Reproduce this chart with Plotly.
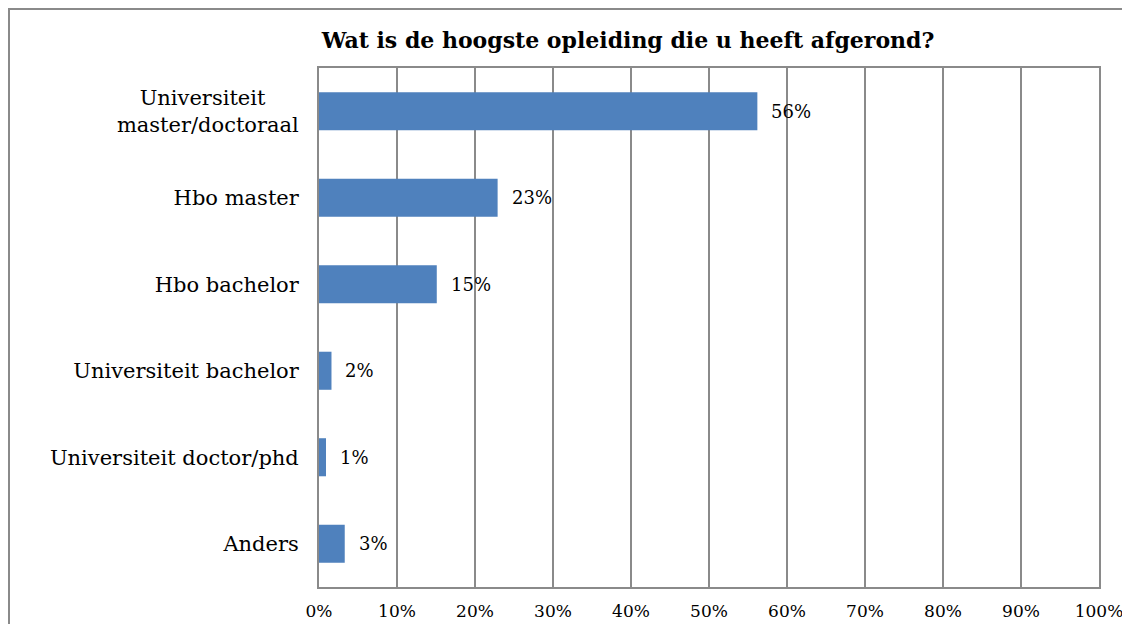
import plotly.graph_objects as go

categories = ["Universiteit\u00a0\u00a0\u00a0\u00a0\u00a0<br>master/doctoraal", "Hbo master", "Hbo bachelor",
              "Universiteit bachelor", "Universiteit doctor/phd", "Anders"]
values = [0.562, 0.229, 0.151, 0.016, 0.009, 0.033]
labels = ["56%", "23%", "15%", "2%", "1%", "3%"]
x_ticks = [0, 0.1, 0.2, 0.3, 0.4, 0.5, 0.6, 0.7, 0.8, 0.9, 1.0]
title = "Wat is de hoogste opleiding die u heeft afgerond?"

FONT = "DejaVu Serif"
GRID = "#8a8a8a"

# page body has an 8px margin; figure is sized/offset to compensate
W, H = 1114, 616
L, R, T, B = 311, 23, 60, 37
PW, PH = W - L - R, H - T - B

fig = go.Figure()
fig.add_trace(go.Bar(
    x=values, y=categories, orientation="h",
    marker=dict(color="#4F81BD", line=dict(width=0)),
    hoverinfo="skip",
))
for v, c, t in zip(values, categories, labels):
    fig.add_annotation(x=v, y=c, text=t, showarrow=False, xanchor="left",
                       xshift=12, font=dict(family=FONT, size=18, color="#000"))

fig.update_layout(
    width=W, height=H,
    margin=dict(l=L, r=R, t=T, b=B, autoexpand=False),
    paper_bgcolor="white", plot_bgcolor="white",
    showlegend=False, bargap=0.56,
    title=dict(text="<b>" + title + "</b>", x=(620 - L) / PW, xref="paper", xanchor="center",
               y=1 - 32 / H, yanchor="middle",
               font=dict(family=FONT, size=22, color="#000")),
    font=dict(family=FONT, size=21, color="#000"),
    xaxis=dict(range=[0, 1], tickvals=x_ticks, tickformat=".0%",
               showgrid=True, gridcolor=GRID, gridwidth=2,
               showline=True, linecolor=GRID, linewidth=2, mirror=True,
               zeroline=False, ticks="", ticklabelstandoff=8,
               ticklabeloverflow="allow", automargin=False,
               tickfont=dict(family=FONT, size=17, color="#000"), fixedrange=True),
    yaxis=dict(autorange="reversed", showgrid=False,
               showline=True, linecolor=GRID, linewidth=2, mirror=True,
               ticks="", ticklabelstandoff=14, automargin=False,
               tickfont=dict(family=FONT, size=21, color="#000"), fixedrange=True),
)
fig.add_shape(type="rect", xref="paper", yref="paper",
              x0=(1 - L) / PW, x1=(1140 - L) / PW,
              y0=-0.3, y1=(T + PH - 1) / PH,
              line=dict(color="#8a8a8a", width=2), fillcolor="rgba(0,0,0,0)", layer="below")

fig.write_html("out.html")
